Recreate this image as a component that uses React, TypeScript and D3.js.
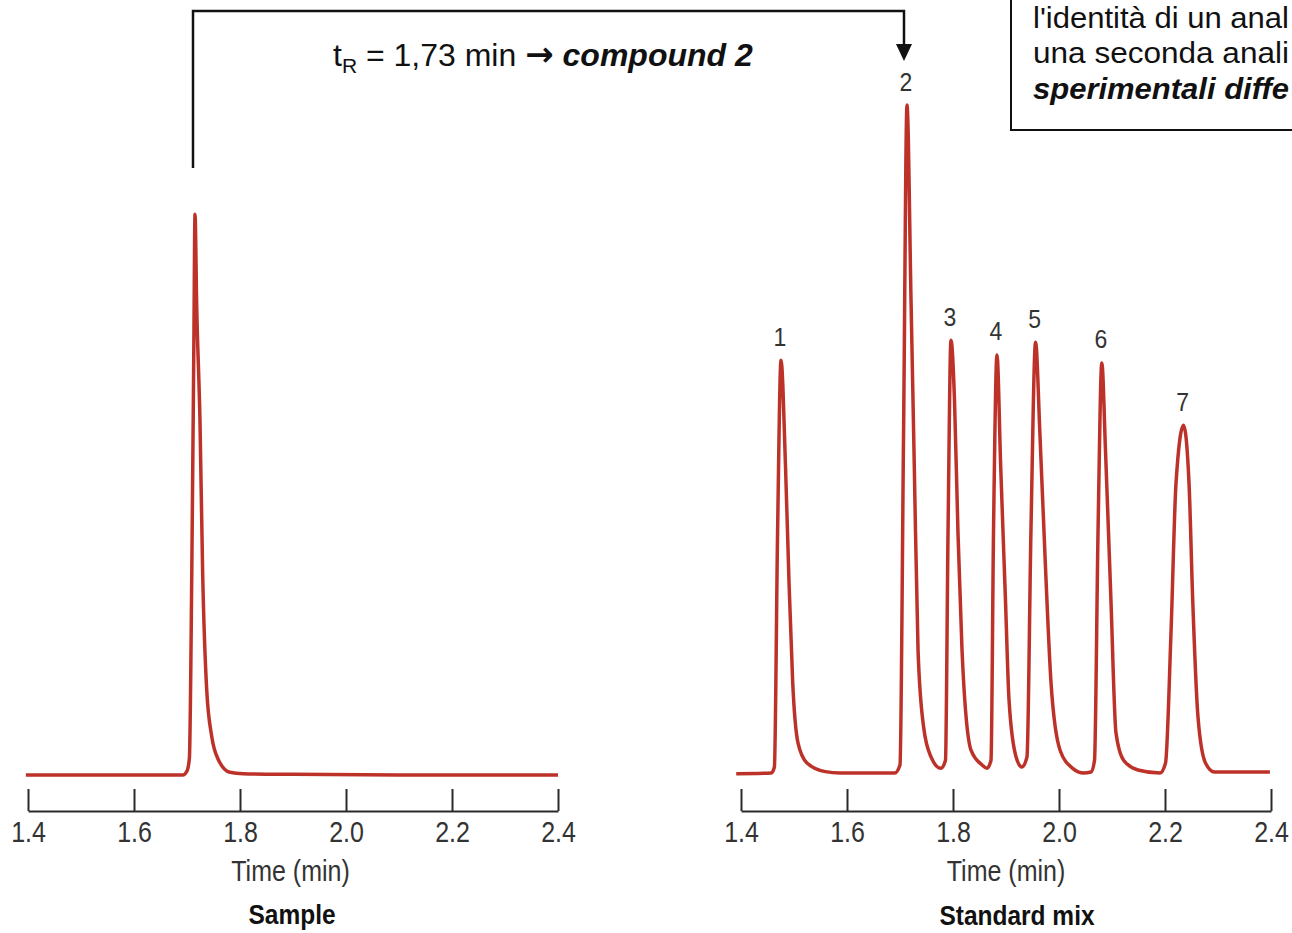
import { useRef, useEffect } from "react";
import * as d3 from "d3";

// axis ticks (min)
const TICKS = [1.4, 1.6, 1.8, 2.0, 2.2, 2.4];

// Sample chromatogram (time in min, signal in % of tallest standard peak)
const SAMPLE_TIME = [1.396, 1.55, 1.6, 1.65, 1.692, 1.7, 1.7045, 1.709, 1.713, 1.7151, 1.7183, 1.7245, 1.7296, 1.7372, 1.7466, 1.7585, 1.781, 1.806, 1.9, 2.1, 2.4];
const SAMPLE_SIGNAL = [0, 0, 0, 0, 0, 0.6, 2.5, 30, 65, 83.7, 70, 52.8, 29.9, 12.7, 5.8, 2.4, 0.4, 0.2, 0.1, 0, 0];

// Standard mix chromatogram
const MIX_TIME = [1.391, 1.457, 1.463, 1.469, 1.4755, 1.484, 1.4906, 1.4975, 1.5075, 1.5245, 1.559, 1.587, 1.69, 1.7, 1.7066, 1.7132, 1.7208, 1.727, 1.734, 1.7445, 1.7585, 1.777, 1.7858, 1.7906, 1.7962, 1.8028, 1.8094, 1.817, 1.834, 1.8547, 1.864, 1.8717, 1.8764, 1.883, 1.89, 1.899, 1.9057, 1.919, 1.93, 1.9396, 1.947, 1.9558, 1.964, 1.9745, 1.985, 2.002, 2.0258, 2.0464, 2.0604, 2.067, 2.0736, 2.0808, 2.0877, 2.098, 2.1075, 2.1219, 2.149, 2.1906, 2.201, 2.2113, 2.2208, 2.235, 2.2453, 2.2523, 2.2623, 2.2764, 2.2934, 2.398];
const MIX_SIGNAL = [0.2, 0.3, 1.2, 36.1, 61.9, 46.0, 28.8, 13.9, 4.8, 1.8, 0.5, 0.3, 0.3, 1.5, 50, 100, 70.9, 46, 18.7, 7.2, 2.7, 1.0, 2.2, 36.1, 64.9, 56, 36.1, 18.7, 3.7, 1.5, 1.0, 2.2, 36.1, 62.7, 46, 26.1, 11.2, 2.7, 1.2, 2.7, 36.1, 64.6, 50.9, 31, 13.7, 3.7, 1.0, 0.3, 0.45, 2.2, 36.1, 61.5, 48.5, 26.1, 6.3, 2.2, 0.75, 0.3, 1.8, 21.2, 43.6, 52.2, 43.6, 26.1, 8.6, 1.8, 0.45, 0.45];

// peak apexes of the standard mix
const PEAK_LABELS = ["1", "2", "3", "4", "5", "6", "7"];
const PEAK_TIMES = [1.4755, 1.7132, 1.7962, 1.883, 1.9558, 2.0808, 2.235];
const PEAK_HEIGHTS = [61.9, 100, 64.9, 62.7, 64.6, 61.5, 52.2];

const SAMPLE_APEX = 1.7151;
const MATCHED_PEAK = 1;

// note box text, as much as shows before the right edge
const BOX_LINES = ["l'identità di un anal", "una seconda anali", "sperimentali diffe"];

const W = 1292;
const H = 933;
const FONT = "'Liberation Sans', Arial, Helvetica, sans-serif";
const RED = "#bd3228";
const STRETCH = 1.15; // chart lettering is a bit taller than wide

export default function App() {
  const svgRef = useRef<SVGSVGElement | null>(null);

  useEffect(() => {
    const svg = d3.select(svgRef.current);
    svg.selectAll("*").remove();

    const axisY = 811;
    const y = d3.scaleLinear().domain([0, 100]).range([775, 105]);
    const xLeft = d3.scaleLinear().domain([1.4, 2.4]).range([28, 558]);
    const xRight = d3.scaleLinear().domain([1.4, 2.4]).range([741, 1271]);

    const tallText = (x: number, yy: number, txt: string, size: number, bold = false, fill = "#333") =>
      svg
        .append("text")
        .attr("transform", `translate(${x},${yy}) scale(1,${STRETCH})`)
        .attr("text-anchor", "middle")
        .attr("fill", fill)
        .attr("font-size", `${size}px`)
        .attr("font-weight", bold ? "bold" : "normal")
        .attr("font-family", FONT)
        .text(txt);

    const panels = [
      { x: xLeft, t: SAMPLE_TIME, v: SAMPLE_SIGNAL, title: "Sample", axisDx: -2.5, titleDx: -1, titleY: 924 },
      { x: xRight, t: MIX_TIME, v: MIX_SIGNAL, title: "Standard mix", axisDx: 0, titleDx: 11, titleY: 925 },
    ];

    panels.forEach((p) => {
      const pts = p.t.map((t, i) => [t, p.v[i]] as [number, number]);
      const line = d3
        .line<[number, number]>()
        .x((d) => p.x(d[0]))
        .y((d) => y(d[1]))
        .curve(d3.curveMonotoneX);

      svg
        .append("path")
        .attr("d", line(pts))
        .attr("fill", "none")
        .attr("stroke", RED)
        .attr("stroke-width", 3.5)
        .attr("stroke-linejoin", "round");

      // axis with ticks pointing up
      const ax = svg
        .append("g")
        .attr("transform", `translate(0,${axisY})`)
        .call(
          d3.axisBottom(p.x)
            .tickValues(TICKS)
            .tickSizeInner(-22)
            .tickSizeOuter(0)
            .tickPadding(9)
            .tickFormat(d3.format(".1f"))
        );
      ax.select(".domain").attr("stroke", "#2a2a2a").attr("stroke-width", 2);
      ax.selectAll(".tick line").attr("stroke", "#2a2a2a").attr("stroke-width", 2);
      ax.selectAll(".tick text")
        .attr("transform", `scale(1,${STRETCH})`)
        .attr("fill", "#333")
        .attr("font-size", "25px")
        .attr("font-family", FONT);

      const mid = (p.x.range()[0] + p.x.range()[1]) / 2;
      tallText(mid + p.axisDx, 881, "Time (min)", 25);
      tallText(mid + p.titleDx, p.titleY, p.title, 24.5, true, "#111");
    });

    // peak numbers
    PEAK_LABELS.forEach((lab, i) => {
      tallText(xRight(PEAK_TIMES[i]) - 1, y(PEAK_HEIGHTS[i]) - 14.5, lab, 23);
    });

    // bracket from sample peak to matched standard peak
    const bx0 = xLeft(SAMPLE_APEX) - 2;
    const bx1 = xRight(PEAK_TIMES[MATCHED_PEAK]) - 3;
    svg
      .append("path")
      .attr("d", `M${bx0},168V11H${bx1}V46`)
      .attr("fill", "none")
      .attr("stroke", "#111")
      .attr("stroke-width", 2.5);
    svg
      .append("path")
      .attr("d", `M${bx1 - 8},44L${bx1 + 8},44L${bx1},61Z`)
      .attr("fill", "#111");

    const note = svg
      .append("text")
      .attr("x", 333)
      .attr("y", 66)
      .attr("fill", "#111")
      .attr("font-size", "32px")
      .attr("font-family", FONT);
    note.append("tspan").text("t");
    note.append("tspan").attr("font-size", "21px").attr("dy", 7).text("R");
    note.append("tspan").attr("dy", -7).text(" = 1,73 min ");
    note
      .append("tspan")
      .attr("font-family", "'DejaVu Sans', sans-serif")
      .attr("font-size", "34px")
      .attr("font-weight", "bold")
      .text("\u2192");
    note
      .append("tspan")
      .attr("font-weight", "bold")
      .attr("font-style", "italic")
      .text(" compound 2");

    // note box, cut by the right and top edges
    svg
      .append("rect")
      .attr("x", 1011)
      .attr("y", -10)
      .attr("width", 400)
      .attr("height", 140)
      .attr("fill", "#fff")
      .attr("stroke", "#111")
      .attr("stroke-width", 2);

    BOX_LINES.forEach((txt, i) => {
      svg
        .append("text")
        .attr("x", 1033)
        .attr("y", 27.5 + i * 35.5)
        .attr("fill", "#111")
        .attr("font-size", "30px")
        .attr("font-family", FONT)
        .attr("font-weight", i === 2 ? "bold" : "normal")
        .attr("font-style", i === 2 ? "italic" : "normal")
        .attr("textLength", 256)
        .attr("lengthAdjust", "spacingAndGlyphs")
        .text(txt);
    });
  }, []);

  return (
    <svg
      ref={svgRef}
      width={W}
      height={H}
      viewBox={`0 0 ${W} ${H}`}
      style={{ position: "absolute", left: 0, top: 0, background: "#fff", overflow: "hidden" }}
    />
  );
}
